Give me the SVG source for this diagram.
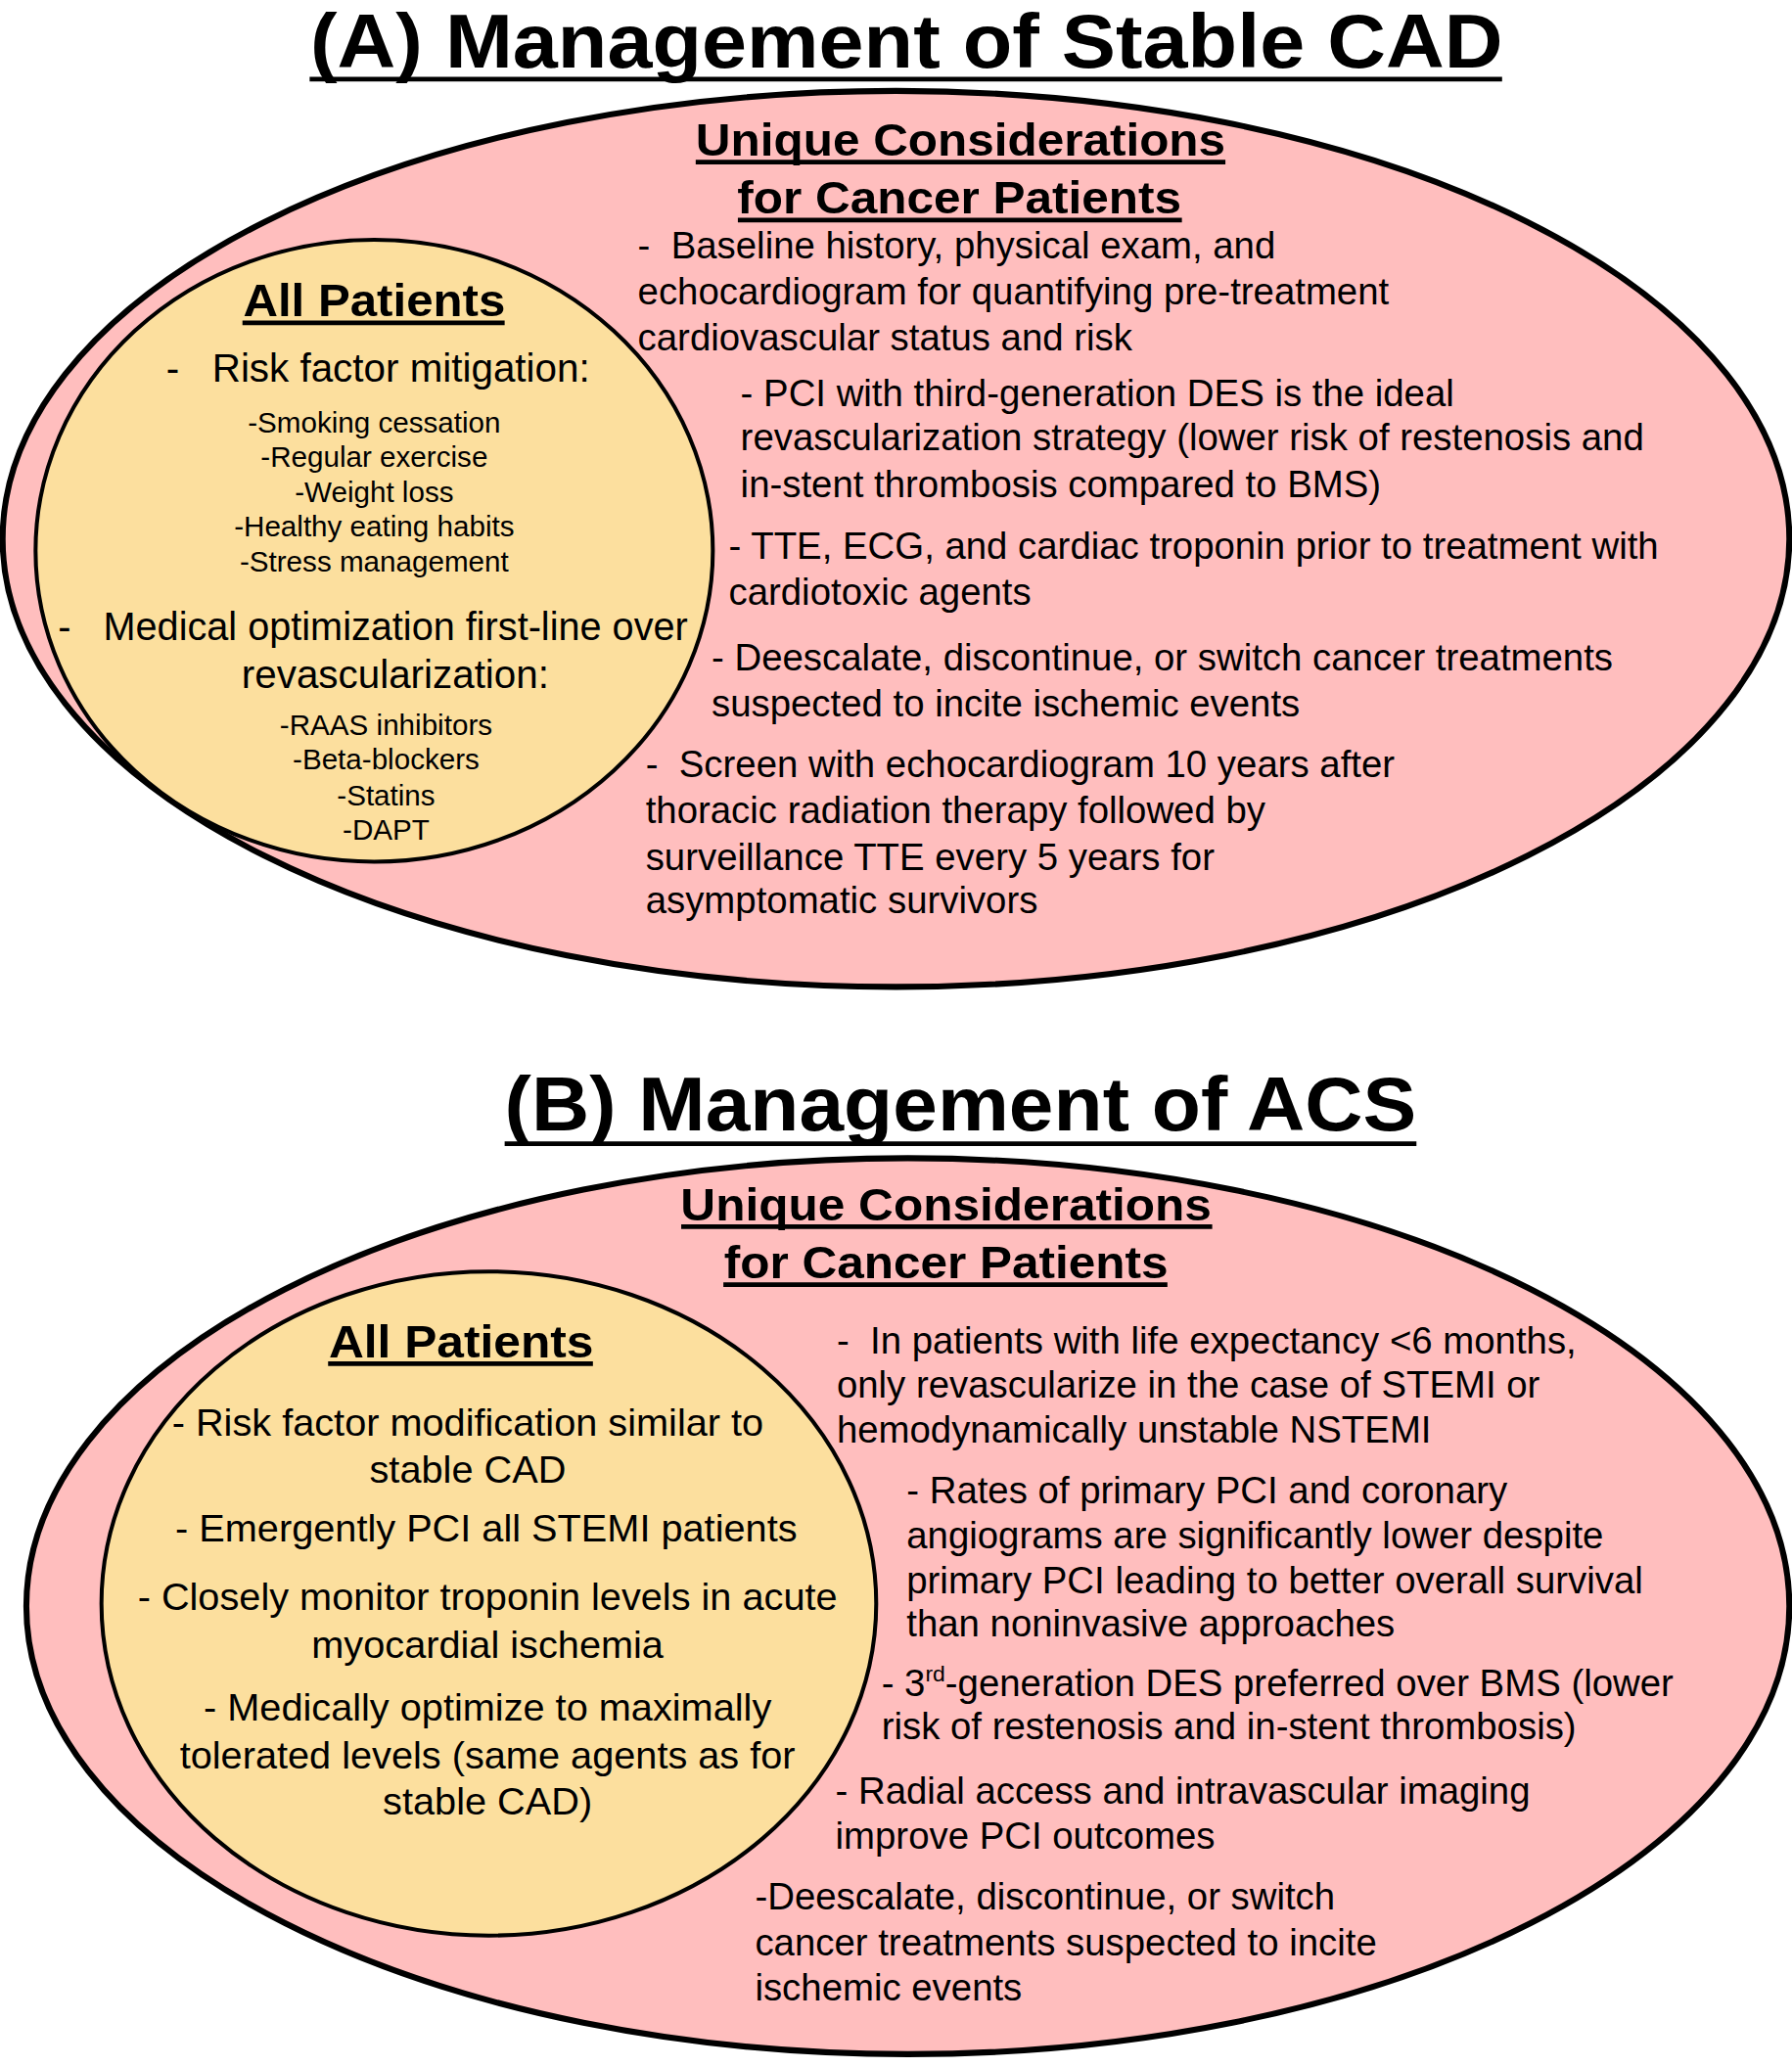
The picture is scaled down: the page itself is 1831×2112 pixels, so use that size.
<svg xmlns="http://www.w3.org/2000/svg" width="1831" height="2112" viewBox="0 0 1831 2112" xml:space="preserve">
<style>
text{font-family:"Liberation Sans",Arial,sans-serif;fill:#000;white-space:pre}
.t{font-size:58px;font-weight:bold}
.h{font-size:35px;font-weight:bold}
.b{font-size:28.5px}
.bb{font-size:30px}
.bc{font-size:29.5px}
.s{font-size:22px}
.c{text-anchor:middle}
.ul{stroke:#000;stroke-width:3.5}
.outer{fill:#FFBEBE;stroke:#000;stroke-width:4.5}
.inner{fill:#FCDF9E;stroke:#000;stroke-width:3}
</style>
<rect width="1831" height="2112" fill="#fff"/>
<g transform="scale(1.3463)">
<g id="titleA">
<text class="t c" x="688" y="51" textLength="905" lengthAdjust="spacingAndGlyphs">(A) Management of Stable CAD</text>
<line class="ul" x1="235" y1="60" x2="1140" y2="60" stroke-width="4"/>
</g>
<g id="cancerA">
<ellipse class="outer" cx="680" cy="409" rx="678" ry="340"/>
<text class="h c" x="729" y="118" textLength="402" lengthAdjust="spacingAndGlyphs">Unique Considerations</text>
<line class="ul" x1="528" y1="123" x2="930" y2="123"/>
<text class="h c" x="728" y="162" textLength="337" lengthAdjust="spacingAndGlyphs">for Cancer Patients</text>
<line class="ul" x1="560" y1="167" x2="897" y2="167"/>
<g class="b">
<text x="484" y="196">-  Baseline history, physical exam, and</text>
<text x="484" y="231">echocardiogram for quantifying pre-treatment</text>
<text x="484" y="266">cardiovascular status and risk</text>
<text x="562" y="308">- PCI with third-generation DES is the ideal</text>
<text x="562" y="342">revascularization strategy (lower risk of restenosis and</text>
<text x="562" y="377">in-stent thrombosis compared to BMS)</text>
<text x="553" y="424">- TTE, ECG, and cardiac troponin prior to treatment with</text>
<text x="553" y="459">cardiotoxic agents</text>
<text x="540" y="509">- Deescalate, discontinue, or switch cancer treatments</text>
<text x="540" y="544">suspected to incite ischemic events</text>
<text x="490" y="590">-  Screen with echocardiogram 10 years after</text>
<text x="490" y="625">thoracic radiation therapy followed by</text>
<text x="490" y="660">surveillance TTE every 5 years for</text>
<text x="490" y="693">asymptomatic survivors</text>
</g>
</g>
<g id="allA">
<ellipse class="inner" cx="284" cy="418" rx="257" ry="236"/>
<text class="h c" x="284" y="240" textLength="199" lengthAdjust="spacingAndGlyphs">All Patients</text>
<line class="ul" x1="184" y1="245" x2="383" y2="245"/>
<text class="bb" x="126" y="290">-   Risk factor mitigation:</text>
<g class="s c">
<text x="284" y="328">-Smoking cessation</text>
<text x="284" y="354">-Regular exercise</text>
<text x="284" y="381">-Weight loss</text>
<text x="284" y="407">-Healthy eating habits</text>
<text x="284" y="434">-Stress management</text>
</g>
<text class="bb" x="44" y="486" font-size="29.5" textLength="478" lengthAdjust="spacingAndGlyphs">-   Medical optimization first-line over</text>
<text class="bb c" x="300" y="522">revascularization:</text>
<g class="s c">
<text x="293" y="558">-RAAS inhibitors</text>
<text x="293" y="584">-Beta-blockers</text>
<text x="293" y="611">-Statins</text>
<text x="293" y="637">-DAPT</text>
</g>
</g>
<g id="titleB">
<text class="t c" x="729" y="858" textLength="692" lengthAdjust="spacingAndGlyphs">(B) Management of ACS</text>
<line class="ul" x1="383" y1="868" x2="1075" y2="868" stroke-width="4"/>
</g>
<g id="cancerB">
<ellipse class="outer" cx="689" cy="1219" rx="669" ry="340"/>
<text class="h c" x="718" y="926" textLength="403" lengthAdjust="spacingAndGlyphs">Unique Considerations</text>
<line class="ul" x1="517" y1="931" x2="920" y2="931"/>
<text class="h c" x="718" y="970" textLength="337" lengthAdjust="spacingAndGlyphs">for Cancer Patients</text>
<line class="ul" x1="549" y1="975" x2="886" y2="975"/>
<g class="b">
<text x="635" y="1027">-  In patients with life expectancy &lt;6 months,</text>
<text x="635" y="1061">only revascularize in the case of STEMI or</text>
<text x="635" y="1095">hemodynamically unstable NSTEMI</text>
<text x="688" y="1141">- Rates of primary PCI and coronary</text>
<text x="688" y="1175">angiograms are significantly lower despite</text>
<text x="688" y="1209">primary PCI leading to better overall survival</text>
<text x="688" y="1242">than noninvasive approaches</text>
<text x="669" y="1287">- 3<tspan font-size="17" dy="-11">rd</tspan><tspan dy="11">-generation DES preferred over BMS (lower</tspan></text>
<text x="669" y="1320">risk of restenosis and in-stent thrombosis)</text>
<text x="634" y="1369">- Radial access and intravascular imaging</text>
<text x="634" y="1403">improve PCI outcomes</text>
<text x="573" y="1449">-Deescalate, discontinue, or switch</text>
<text x="573" y="1484">cancer treatments suspected to incite</text>
<text x="573" y="1518">ischemic events</text>
</g>
</g>
<g id="allB">
<ellipse class="inner" cx="371" cy="1217" rx="294" ry="252"/>
<text class="h c" x="350" y="1030" textLength="201" lengthAdjust="spacingAndGlyphs">All Patients</text>
<line class="ul" x1="249" y1="1035" x2="450" y2="1035"/>
<g class="bc c">
<text x="355" y="1090">- Risk factor modification similar to</text>
<text x="355" y="1125">stable CAD</text>
<text x="369" y="1170">- Emergently PCI all STEMI patients</text>
<text x="370" y="1222">- Closely monitor troponin levels in acute</text>
<text x="370" y="1258">myocardial ischemia</text>
<text x="370" y="1306">- Medically optimize to maximally</text>
<text x="370" y="1342">tolerated levels (same agents as for</text>
<text x="370" y="1377">stable CAD)</text>
</g>
</g>
</g>
</svg>
